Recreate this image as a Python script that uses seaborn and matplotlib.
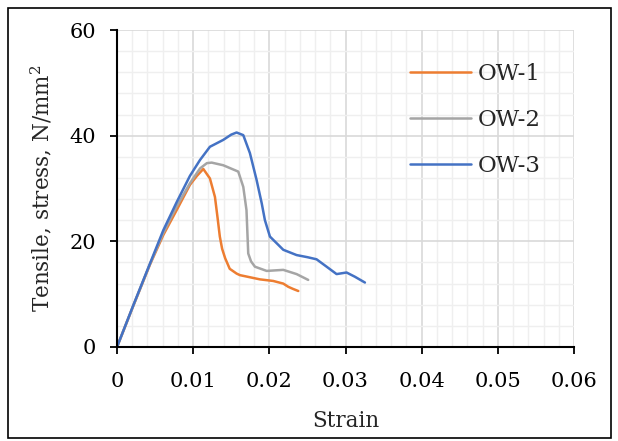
import matplotlib
matplotlib.use("Agg")
import matplotlib.pyplot as plt
from matplotlib.patches import Rectangle
from matplotlib.ticker import MultipleLocator
import seaborn as sns
import pandas as pd

# ---- data ----
ow1_strain = [0.0, 0.00214, 0.00433, 0.00608, 0.00783, 0.00958, 0.0105, 0.01133,
              0.0122, 0.01286, 0.0132, 0.0135, 0.0138, 0.0142, 0.0148, 0.0157,
              0.01614, 0.01877, 0.02051, 0.02183, 0.02248, 0.0231, 0.0238]
ow1_stress = [0.0, 7.8, 15.6, 21.2, 25.9, 30.7, 32.4, 33.7,
              31.9, 28.4, 24.5, 20.9, 18.6, 16.8, 14.8, 13.9,
              13.6, 12.8, 12.5, 12.0, 11.4, 11.0, 10.6]

ow2_strain = [0.0, 0.00214, 0.00433, 0.00608, 0.00783, 0.00958, 0.0109, 0.0118, 0.01243,
              0.01395, 0.01592, 0.01658, 0.0168, 0.017, 0.01723, 0.0176, 0.01811,
              0.01965, 0.02183, 0.02358, 0.0251]
ow2_stress = [0.0, 7.8, 15.7, 21.6, 26.6, 31.0, 33.8, 34.8, 34.9,
              34.4, 33.2, 30.3, 28.0, 25.9, 17.7, 16.2, 15.2,
              14.4, 14.6, 13.8, 12.7]

ow3_strain = [0.0, 0.00214, 0.00433, 0.00608, 0.00783, 0.00958, 0.0109, 0.0122,
              0.01395, 0.0150, 0.0157, 0.01658, 0.01745, 0.01833, 0.019, 0.01942,
              0.02008, 0.02183, 0.02358, 0.0250, 0.0262, 0.02752, 0.02883, 0.03014,
              0.03123, 0.03255]
ow3_stress = [0.0, 7.9, 15.8, 22.1, 27.4, 32.4, 35.4, 37.9,
              39.2, 40.2, 40.6, 40.1, 36.7, 31.6, 27.2, 24.0,
              20.9, 18.4, 17.4, 17.0, 16.6, 15.2, 13.8, 14.1,
              13.3, 12.2]

series_names = ["OW-1", "OW-2", "OW-3"]
series_colors = ["#ED7D31", "#A5A5A5", "#4472C4"]
x_ticks = [0, 0.01, 0.02, 0.03, 0.04, 0.05, 0.06]
x_tick_labels = ["0", "0.01", "0.02", "0.03", "0.04", "0.05", "0.06"]
y_ticks = [0, 20, 40, 60]
x_label = "Strain"
y_label = "Tensile, stress, N/mm$^2$"

frames = []
for name, xs, ys in zip(series_names,
                        [ow1_strain, ow2_strain, ow3_strain],
                        [ow1_stress, ow2_stress, ow3_stress]):
    frames.append(pd.DataFrame({"Strain": xs, "Stress": ys, "Series": name}))
df = pd.concat(frames, ignore_index=True)

sns.set_style("white")
plt.rcParams["font.family"] = ["DejaVu Serif"]
plt.rcParams["mathtext.fontset"] = "dejavuserif"

fig = plt.figure(figsize=(6.18, 4.41), dpi=100)
ax = fig.add_axes([117 / 618, 1 - 347 / 441, (574 - 117) / 618, (347 - 30) / 441])

sns.lineplot(data=df, x="Strain", y="Stress", hue="Series",
             palette=dict(zip(series_names, series_colors)),
             estimator=None, sort=False, linewidth=1.8, ax=ax)

ax.set_xlim(0, 0.06)
ax.set_ylim(0, 60)
ax.set_xticks(x_ticks)
ax.set_xticklabels(x_tick_labels)
ax.set_yticks(y_ticks)
ax.xaxis.set_minor_locator(MultipleLocator(0.002))
ax.yaxis.set_minor_locator(MultipleLocator(4))
ax.grid(which="major", color="#d9d9d9", linewidth=1.2)
ax.grid(which="minor", color="#efefef", linewidth=1.0)
ax.set_axisbelow(True)

for s in ["top", "right"]:
    ax.spines[s].set_visible(False)
for s in ["left", "bottom"]:
    ax.spines[s].set_color("black")
    ax.spines[s].set_linewidth(1.5)

ax.tick_params(axis="both", which="major", direction="out", length=5, width=1.3,
               colors="black", labelsize=15, bottom=True, left=True)
ax.tick_params(axis="x", which="major", pad=13)
ax.tick_params(axis="y", which="major", pad=10)
ax.tick_params(axis="both", which="minor", length=0)

ax.set_xlabel(x_label, fontsize=15.5, labelpad=14)
ax.set_ylabel(y_label, fontsize=15.5, labelpad=11)

leg = ax.legend(loc="upper left", bbox_to_anchor=(0.597, 0.962), frameon=False,
                fontsize=16.5, handlelength=2.65, labelspacing=1.05, handletextpad=0.3)
for line in leg.get_lines():
    line.set_linewidth(1.8)

fig.patches.append(Rectangle((8 / 618, 1 - 438 / 441), (611 - 8) / 618, (438 - 8) / 441,
                             transform=fig.transFigure, fill=False,
                             edgecolor="black", linewidth=1.2))

fig.savefig("out.png", dpi=100)
